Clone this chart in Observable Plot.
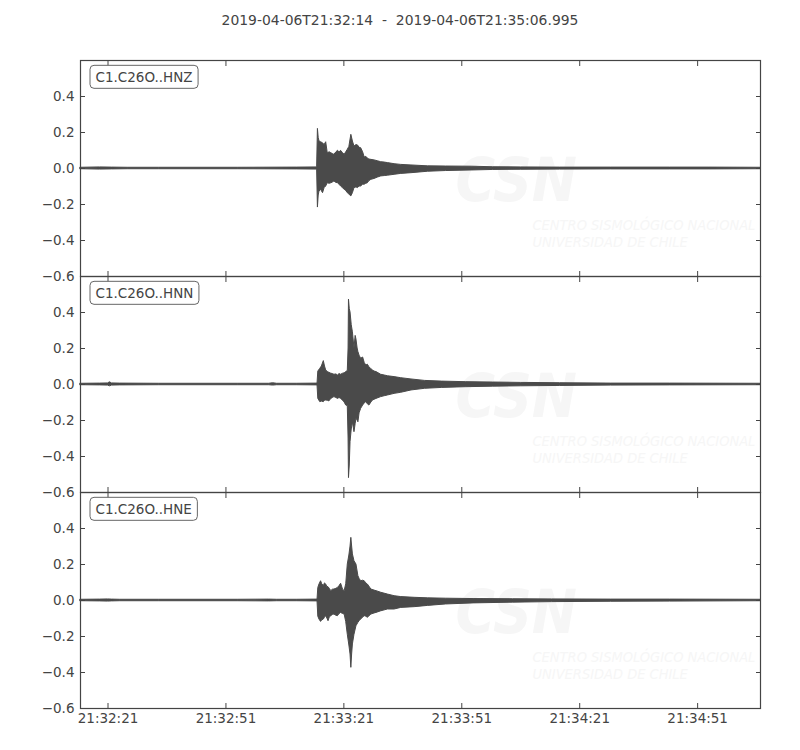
<!DOCTYPE html>
<html>
<head>
<meta charset="utf-8">
<script src="https://cdn.jsdelivr.net/npm/d3@7"></script>
<script src="https://cdn.jsdelivr.net/npm/@observablehq/plot@0.6"></script>
<style>
  body { margin: 0; background: white; font-family: "DejaVu Sans", sans-serif; }
  #title { width: 800px; height: 50px; padding-top: 12px; box-sizing: border-box; text-align: center; font-size: 13.9px; color: #444; white-space: pre; }
  #chart svg { display: block; overflow: visible; }
</style>
</head>
<body>
<div id="title"></div>
<div id="chart"></div>
<script>
// trace envelope: seconds after 21:32:14, upper and lower amplitude
const hnzT  = [0, 5, 8, 12, 20, 40, 55, 60.2, 60.4, 60.6, 60.8, 61.2, 61.7, 62.1, 62.5, 62.9, 63.4, 63.8, 64.2, 64.6, 65.1, 65.5, 65.9, 66.3, 66.8, 67.2, 67.6, 68.0, 68.4, 68.9, 69.3, 69.7, 70.2, 70.6, 71.0, 71.4, 71.9, 72.3, 72.7, 73.1, 73.5, 74.0, 74.8, 75.7, 76.5, 77.4, 78.2, 79.9, 81.6, 84.2, 88.4, 93, 99.5, 105, 112, 122, 135, 150, 160, 173];
const hnzHi = [0.004, 0.006, 0.005, 0.004, 0.004, 0.004, 0.005, 0.006, 0.22, 0.17, 0.15, 0.146, 0.14, 0.13, 0.146, 0.085, 0.09, 0.085, 0.08, 0.076, 0.09, 0.098, 0.09, 0.098, 0.085, 0.076, 0.09, 0.104, 0.12, 0.187, 0.15, 0.122, 0.13, 0.128, 0.115, 0.113, 0.09, 0.061, 0.065, 0.055, 0.05, 0.048, 0.045, 0.04, 0.035, 0.033, 0.03, 0.024, 0.02, 0.017, 0.012, 0.011, 0.01, 0.007, 0.006, 0.005, 0.005, 0.005, 0.005, 0.004];
const hnzLo = [-0.004, -0.006, -0.005, -0.004, -0.004, -0.004, -0.005, -0.006, -0.217, -0.15, -0.128, -0.118, -0.137, -0.109, -0.1, -0.082, -0.085, -0.082, -0.078, -0.072, -0.08, -0.082, -0.09, -0.1, -0.11, -0.118, -0.125, -0.137, -0.145, -0.155, -0.137, -0.109, -0.105, -0.109, -0.1, -0.1, -0.09, -0.09, -0.085, -0.082, -0.07, -0.063, -0.058, -0.05, -0.044, -0.042, -0.04, -0.035, -0.03, -0.026, -0.018, -0.014, -0.011, -0.008, -0.007, -0.006, -0.005, -0.005, -0.005, -0.004];

const hnnT  = [0, 5, 7, 7.5, 8, 10, 20, 40, 48, 49, 50, 55, 60.3, 60.5, 61.0, 61.4, 61.9, 62.2, 62.5, 62.9, 63.3, 63.8, 64.2, 64.6, 65.1, 65.5, 65.9, 66.3, 66.8, 67.2, 67.6, 68.0, 68.2, 68.3, 68.5, 68.7, 69.0, 69.3, 69.7, 70.0, 70.2, 70.5, 70.7, 71.0, 71.4, 71.9, 72.3, 72.7, 73.1, 73.5, 74.0, 74.4, 74.8, 75.3, 76.5, 77.4, 78.2, 79.9, 81.6, 84.2, 87.6, 92, 98, 105, 112, 122, 135, 150, 173];
const hnnHi = [0.004, 0.005, 0.006, 0.012, 0.006, 0.005, 0.004, 0.004, 0.004, 0.007, 0.004, 0.004, 0.005, 0.072, 0.087, 0.1, 0.13, 0.1, 0.078, 0.07, 0.065, 0.06, 0.058, 0.054, 0.056, 0.05, 0.058, 0.054, 0.06, 0.062, 0.069, 0.075, 0.2, 0.472, 0.42, 0.4, 0.33, 0.29, 0.2, 0.27, 0.25, 0.2, 0.18, 0.16, 0.143, 0.15, 0.12, 0.105, 0.11, 0.096, 0.085, 0.078, 0.072, 0.069, 0.054, 0.05, 0.046, 0.041, 0.035, 0.028, 0.02, 0.016, 0.013, 0.011, 0.009, 0.007, 0.005, 0.005, 0.004];
const hnnLo = [-0.004, -0.005, -0.006, -0.01, -0.006, -0.005, -0.004, -0.004, -0.004, -0.006, -0.004, -0.004, -0.005, -0.08, -0.098, -0.095, -0.098, -0.09, -0.089, -0.09, -0.094, -0.08, -0.075, -0.07, -0.075, -0.08, -0.075, -0.08, -0.09, -0.1, -0.117, -0.12, -0.3, -0.52, -0.45, -0.32, -0.25, -0.21, -0.265, -0.22, -0.19, -0.2, -0.21, -0.16, -0.135, -0.117, -0.105, -0.098, -0.11, -0.117, -0.1, -0.089, -0.085, -0.08, -0.07, -0.065, -0.061, -0.052, -0.046, -0.033, -0.024, -0.019, -0.015, -0.012, -0.01, -0.008, -0.006, -0.005, -0.004];

const hneT  = [0, 5, 7, 8, 10, 20, 40, 48, 50, 55, 60.3, 60.5, 60.8, 61.2, 61.5, 61.9, 62.2, 62.5, 62.8, 63.1, 63.4, 63.8, 64.2, 64.6, 65.1, 65.5, 65.9, 66.3, 66.8, 67.2, 67.6, 68.0, 68.4, 68.7, 68.9, 69.1, 69.3, 69.7, 70.2, 70.7, 71.0, 71.4, 71.9, 72.3, 72.7, 73.1, 74.0, 74.8, 75.3, 76.5, 78.2, 79.9, 81.6, 85.0, 88.4, 93, 100, 110, 120, 135, 150, 173];
const hneHi = [0.004, 0.005, 0.006, 0.005, 0.004, 0.004, 0.004, 0.005, 0.004, 0.004, 0.005, 0.07, 0.089, 0.107, 0.09, 0.08, 0.095, 0.089, 0.075, 0.074, 0.065, 0.052, 0.06, 0.061, 0.065, 0.07, 0.08, 0.093, 0.06, 0.052, 0.09, 0.2, 0.25, 0.3, 0.348, 0.3, 0.256, 0.218, 0.2, 0.135, 0.12, 0.107, 0.11, 0.107, 0.095, 0.089, 0.061, 0.055, 0.052, 0.043, 0.033, 0.024, 0.019, 0.015, 0.012, 0.01, 0.008, 0.007, 0.006, 0.005, 0.005, 0.004];
const hneLo = [-0.004, -0.005, -0.006, -0.005, -0.004, -0.004, -0.004, -0.005, -0.004, -0.004, -0.005, -0.09, -0.106, -0.119, -0.11, -0.106, -0.095, -0.087, -0.1, -0.115, -0.095, -0.087, -0.08, -0.078, -0.085, -0.087, -0.075, -0.069, -0.075, -0.078, -0.12, -0.19, -0.25, -0.3, -0.374, -0.3, -0.244, -0.19, -0.143, -0.124, -0.115, -0.106, -0.095, -0.087, -0.09, -0.096, -0.078, -0.072, -0.069, -0.06, -0.05, -0.05, -0.041, -0.037, -0.03, -0.022, -0.016, -0.012, -0.009, -0.007, -0.006, -0.004];

const channels = ["C1.C26O..HNZ", "C1.C26O..HNN", "C1.C26O..HNE"];
const xTickLabels = ["21:32:21", "21:32:51", "21:33:21", "21:33:51", "21:34:21", "21:34:51"];
const yTicks = [-0.6, -0.4, -0.2, 0.0, 0.2, 0.4];
const startLabel = "2019-04-06T21:32:14";
const endLabel = "2019-04-06T21:35:06.995";

const ink = "#4a4a4a";
const axisColor = "#444";
const parseTime = d3.utcParse("%Y-%m-%dT%H:%M:%S.%L");
const start = parseTime(startLabel + ".000");
const end = parseTime(endLabel);
const xTicks = xTickLabels.map(s => parseTime("2019-04-06T" + s + ".000"));
const fmtTime = d3.utcFormat("%H:%M:%S");

const toRows = (t, hi, lo) => t.map((s, i) => ({time: new Date(+start + s * 1000), hi: hi[i], lo: lo[i]}));
const traces = [toRows(hnzT, hnzHi, hnzLo), toRows(hnnT, hnnHi, hnnLo), toRows(hneT, hneHi, hneLo)];

d3.select("#title").text(`${startLabel}  -  ${endLabel}`);

const wmFont = "Liberation Sans Narrow, DejaVu Sans Condensed, sans-serif";
const wmFill = "#f6f6f6";

traces.forEach((rows, i) => {
  const top = i === 0 ? 10 : 0;
  const bottom = i === 2 ? 35 : 0;
  const last = i === 2;
  const chart = Plot.plot({
    width: 800,
    height: 216 + top + bottom,
    marginLeft: 80,
    marginRight: 40,
    marginTop: top,
    marginBottom: bottom,
    style: {overflow: "visible", background: "transparent", fontFamily: "DejaVu Sans, sans-serif", fontSize: "13.5px", color: axisColor},
    x: {type: "utc", domain: [start, end]},
    y: {domain: [-0.6, 0.6]},
    marks: [
      // faint CSN watermark
      Plot.text(["CSN"], {text: d => d, frameAnchor: "top-left", dx: 375, dy: 140, textAnchor: "start", lineAnchor: "bottom",
        fontSize: 60, fontWeight: "bold", fontStyle: "italic", fontFamily: wmFont, fill: wmFill}),
      Plot.text(["CENTRO SISMOLÓGICO NACIONAL\nUNIVERSIDAD DE CHILE"], {text: d => d, frameAnchor: "top-left", dx: 452, dy: 158,
        textAnchor: "start", lineAnchor: "top", lineHeight: 1.15, fontSize: 14.5, fontStyle: "italic", fontFamily: wmFont, fill: wmFill}),
      Plot.areaY(rows, {x: "time", y1: "lo", y2: "hi", fill: ink, stroke: ink, strokeWidth: 1}),
      Plot.frame({stroke: axisColor, strokeWidth: 1.2}),
      Plot.axisY({ticks: yTicks, tickSize: -5, tickPadding: 11, tickFormat: d3.format(".1f"), label: null}),
      Plot.axisY({anchor: "right", ticks: yTicks, tickSize: -5, tickFormat: () => "", label: null}),
      Plot.axisX({anchor: "top", ticks: xTicks, tickSize: -5, tickFormat: () => "", label: null}),
      Plot.axisX({anchor: "bottom", ticks: xTicks, tickSize: -5, tickPadding: 10, tickFormat: last ? fmtTime : () => "", label: null}),
      Plot.text([channels[i]], {text: d => d, frameAnchor: "top-left", dx: 15, dy: 17, textAnchor: "start", lineAnchor: "middle",
        fontSize: 13.5, fill: axisColor})
    ]
  });
  document.getElementById("chart").append(chart);

  // rounded box behind the channel name
  const label = [...chart.querySelectorAll("text")].find(t => t.textContent === channels[i]);
  if (label) {
    const b = label.getBBox();
    const box = document.createElementNS("http://www.w3.org/2000/svg", "rect");
    box.setAttribute("x", b.x - 5.5);
    box.setAttribute("y", b.y - 3.5);
    box.setAttribute("width", b.width + 11);
    box.setAttribute("height", b.height + 7);
    box.setAttribute("rx", 4);
    box.setAttribute("fill", "white");
    box.setAttribute("stroke", "#666");
    if (label.getAttribute("transform")) box.setAttribute("transform", label.getAttribute("transform"));
    label.parentNode.insertBefore(box, label);
  }
});
</script>
</body>
</html>
